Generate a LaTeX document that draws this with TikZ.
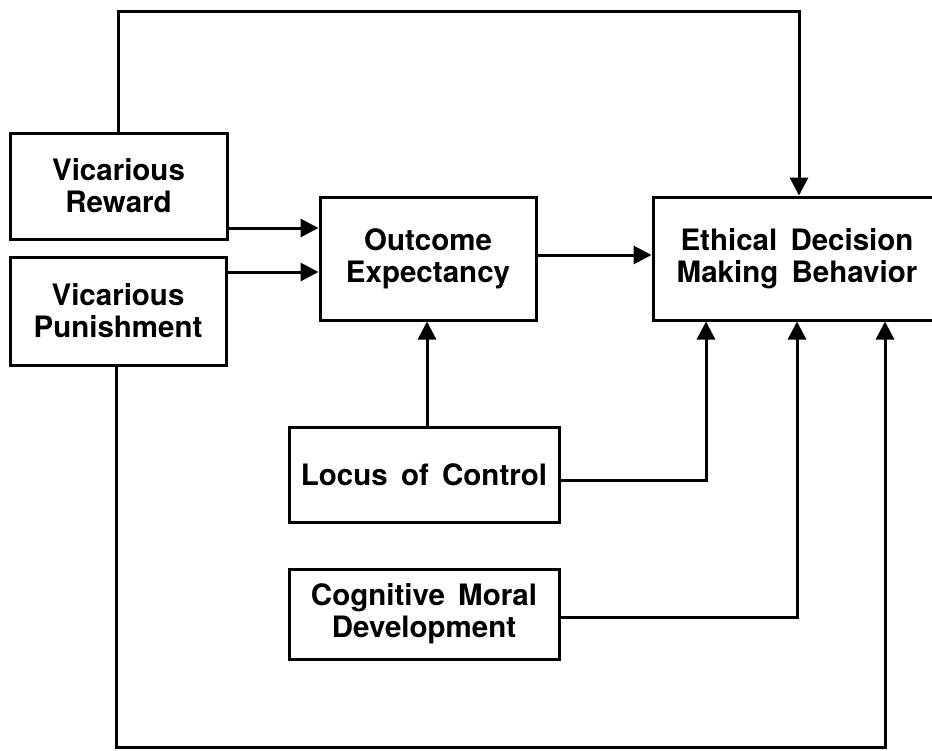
\documentclass[tikz,border=0pt]{standalone}
\usepackage{fontspec}
\setmainfont{TeX Gyre Heros}
\usetikzlibrary{arrows.meta,calc}
\begin{document}
\begin{tikzpicture}[x=1pt,y=-1pt,
  box/.style={draw, line width=3pt, rectangle, align=center, inner sep=0pt,
    font={\fontsize{29.5}{32}\selectfont\bfseries\spaceskip=0.45em\relax}},
  conn/.style={line width=3pt},
  arr/.style={conn, -{Triangle[length=18pt,width=18pt]}}]
\useasboundingbox (0,0) rectangle (932,750);
\clip (0,0) rectangle (932,750);
\node[box, minimum width=217pt, minimum height=106pt] (vr) at (118.5,186) {Vicarious\\Reward};
\node[box, minimum width=216pt, minimum height=108pt] (vp) at (118,311) {Vicarious\\Punishment};
\node[box, minimum width=216pt, minimum height=123pt] (oe) at (428,258.5) {Outcome\\Expectancy};
\node[box, minimum width=288pt, minimum height=123pt] (ed) at (797,258.5) {Ethical Decision\\Making Behavior};
\node[box, minimum width=270pt, minimum height=95pt] (loc) at (424,474.5) {Locus of Control};
\node[box, minimum width=270pt, minimum height=90pt] (cmd) at (424,614) {Cognitive Moral\\Development};
% helper coordinates
\coordinate (topR) at (799,11);
\coordinate (rowA) at (0,228);
\coordinate (rowB) at (0,272);
\coordinate (rowC) at (0,255);
\coordinate (rowL) at (0,480);
\coordinate (rowM) at (0,617);
\coordinate (colL) at (706,0);
\coordinate (colM) at (797,0);
\coordinate (colR) at (885,0);
\coordinate (colO) at (427,0);
\coordinate (botL) at (116,747);
% connectors
\draw[arr] (vr.north) |- (topR) -- (topR |- ed.north);
\draw[arr] (vr.east |- rowA) -- (oe.west |- rowA);
\draw[arr] (vp.east |- rowB) -- (oe.west |- rowB);
\draw[arr] (oe.east |- rowC) -- (ed.west |- rowC);
\draw[arr] (loc.north -| colO) -- (oe.south -| colO);
\draw[arr] (loc.east |- rowL) -| (colL |- ed.south);
\draw[arr] (cmd.east |- rowM) -| (colM |- ed.south);
\draw[arr] (vp.south -| botL) -- (botL) -| (colR |- ed.south);
\end{tikzpicture}
\end{document}
